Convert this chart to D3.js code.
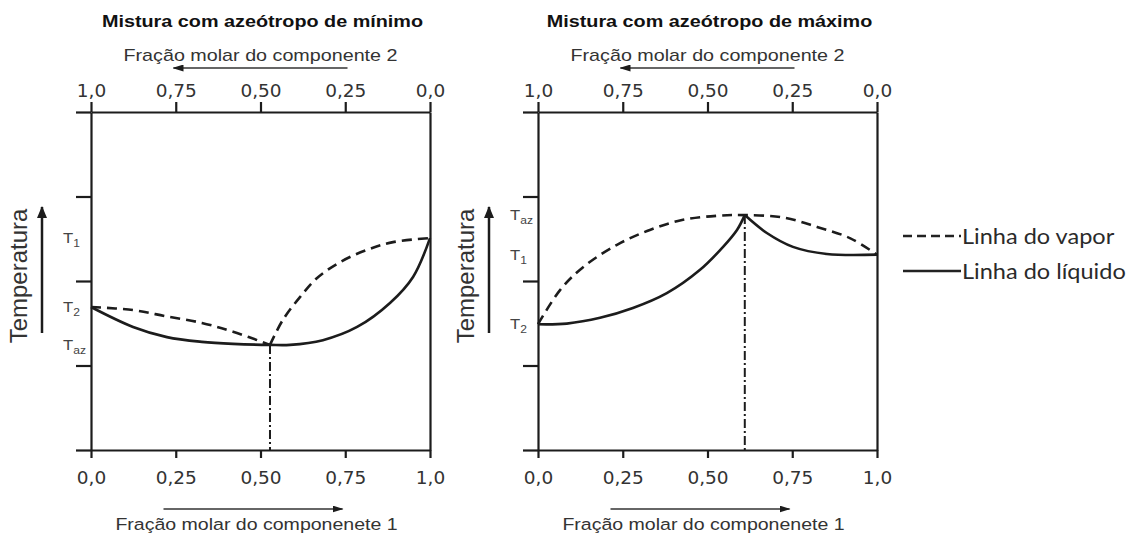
<!DOCTYPE html>
<html>
<head>
<meta charset="utf-8">
<script src="https://cdn.jsdelivr.net/npm/d3@7"></script>
<style>
  html, body { margin: 0; padding: 0; background: #fff; }
  svg { display: block; }
</style>
</head>
<body>
<svg id="chart" width="1138" height="535"></svg>
<script>
// ---- shared axis values and labels ----
const fractionTicks = [0, 0.25, 0.5, 0.75, 1];
const fractionTickLabels = ["0,0", "0,25", "0,50", "0,75", "1,0"];
const tempGrid = [0, 0.25, 0.5, 0.75, 1];
const refNames = [["T", "1"], ["T", "2"], ["T", "az"]];

const panelTitles = ["Mistura com azeótropo de mínimo", "Mistura com azeótropo de máximo"];
const topAxisTitle = "Fração molar do componente 2";
const bottomAxisTitle = "Fração molar do componenete 1";
const tempTitle = "Temperatura";
const legendNames = ["Linha do vapor", "Linha do líquido"];

// ---- minimum-boiling azeotrope (relative temperature, 0 = bottom, 1 = top) ----
const minRefTemps = [0.627, 0.423, 0.311];            // T1, T2, Taz
const minAzeoX = 0.528;
const minVaporA = [[0, 0.423], [0.124, 0.414], [0.224, 0.395], [0.327, 0.376], [0.419, 0.350], [0.528, 0.311]];
const minVaporB = [[0.528, 0.311], [0.566, 0.385], [0.617, 0.453], [0.667, 0.509], [0.735, 0.556],
                   [0.814, 0.592], [0.891, 0.615], [1, 0.627]];
const minLiquidA = [[0, 0.423], [0.124, 0.364], [0.224, 0.334], [0.327, 0.320], [0.419, 0.314], [0.528, 0.311],
                    [0.587, 0.311], [0.684, 0.325], [0.785, 0.364], [0.882, 0.435], [0.950, 0.512], [1, 0.627]];
const minLiquidB = [];

// ---- maximum-boiling azeotrope ----
const maxRefTemps = [0.578, 0.372, 0.695];            // T1, T2, Taz
const maxAzeoX = 0.61;
const maxVaporA = [[0, 0.372], [0.065, 0.473], [0.133, 0.541], [0.233, 0.607], [0.33, 0.651], [0.428, 0.681],
                   [0.528, 0.693], [0.61, 0.695], [0.723, 0.688], [0.823, 0.660], [0.92, 0.627], [1, 0.578]];
const maxVaporB = [];
const maxLiquidA = [[0, 0.372], [0.085, 0.374], [0.183, 0.391], [0.28, 0.420], [0.38, 0.464], [0.478, 0.533],
                    [0.546, 0.601], [0.587, 0.651], [0.61, 0.695]];
const maxLiquidB = [[0.61, 0.695], [0.675, 0.642], [0.752, 0.601], [0.852, 0.580], [1, 0.578]];

// ---- drawing ----
const ink = "#1c1c1c";
const textInk = "#333";
const sans = "'Liberation Sans', Arial, sans-serif";
const svg = d3.select("#chart");

const defs = svg.append("defs");
function arrowMarker(id, w, l) {
  defs.append("marker")
    .attr("id", id)
    .attr("markerUnits", "userSpaceOnUse")
    .attr("viewBox", `0 ${-w} ${l} ${2 * w}`)
    .attr("refX", l - 1).attr("refY", 0)
    .attr("markerWidth", l).attr("markerHeight", 2 * w)
    .attr("orient", "auto-start-reverse")
    .append("path")
    .attr("d", `M0,${-w}L${l},0L0,${w}Z`)
    .attr("fill", ink);
}
arrowMarker("headSmall", 3.5, 11);
arrowMarker("headBig", 5, 12);

// text with a slightly wide set (horizontal stretch)
function wideText(parent, x, y, sx, anchor) {
  return parent.append("text")
    .attr("transform", `translate(${x},${y}) scale(${sx},1)`)
    .attr("text-anchor", anchor);
}

const plotW = 339, yTop = 112, yBottom = 450;
const lineGen = (x, y) => d3.line().x(d => x(d[0])).y(d => y(d[1])).curve(d3.curveCatmullRom.alpha(0.5));

function styleAxis(g) {
  g.selectAll(".domain").attr("stroke", ink).attr("stroke-width", 2.2);
  g.selectAll(".tick line").attr("stroke", ink).attr("stroke-width", 2.2);
  g.selectAll(".tick text")
    .attr("fill", textInk)
    .style("font-family", "'DejaVu Sans', sans-serif")
    .style("font-size", "18.5px");
}

function drawPanel(x0, title, refTemps, azeoX, vapor, liquid) {
  const x = d3.scaleLinear().domain([0, 1]).range([x0, x0 + plotW]);
  const xRev = d3.scaleLinear().domain([1, 0]).range([x0, x0 + plotW]);
  const y = d3.scaleLinear().domain([0, 1]).range([yBottom, yTop]);
  const cx = x0 + plotW / 2;
  const g = svg.append("g");

  // frame and axes
  g.append("g").attr("transform", `translate(0,${yBottom})`)
    .call(d3.axisBottom(x).tickValues(fractionTicks)
      .tickFormat((d, i) => fractionTickLabels[i]).tickSize(8).tickSizeOuter(0).tickPadding(13))
    .call(styleAxis);
  g.append("g").attr("transform", `translate(0,${yTop})`)
    .call(d3.axisTop(xRev).tickValues(fractionTicks.slice().reverse())
      .tickFormat((d, i) => fractionTickLabels[fractionTicks.length - 1 - i]).tickSize(10).tickSizeOuter(0).tickPadding(5))
    .call(styleAxis);
  g.append("g").attr("transform", `translate(${x0},0)`)
    .call(d3.axisLeft(y).tickValues(tempGrid).tickFormat("").tickSize(15).tickSizeOuter(0))
    .call(styleAxis);
  g.append("g").attr("transform", `translate(${x0 + plotW},0)`)
    .call(d3.axisRight(y).tickValues([]).tickSizeOuter(0))
    .call(styleAxis);

  // reference temperature labels
  refTemps.forEach((t, i) => {
    const txt = wideText(g, x0 - 28, y(t) + 5, 1.15, "start")
      .attr("fill", "#444")
      .style("font-family", sans)
      .style("font-size", "14.5px");
    txt.append("tspan").text(refNames[i][0]);
    txt.append("tspan").attr("dy", 4).style("font-size", "10.5px").text(refNames[i][1]);
  });

  // azeotrope composition marker
  g.append("line")
    .attr("x1", x(azeoX)).attr("x2", x(azeoX))
    .attr("y1", y(refTemps[2])).attr("y2", y(0))
    .attr("stroke", ink).attr("stroke-width", 2)
    .attr("stroke-dasharray", "9,3,2,3");

  const line = lineGen(x, y);
  vapor.filter(s => s.length).forEach(s => {
    g.append("path").attr("d", line(s))
      .attr("fill", "none").attr("stroke", ink).attr("stroke-width", 2.6)
      .attr("stroke-dasharray", "10,6");
  });
  liquid.filter(s => s.length).forEach(s => {
    g.append("path").attr("d", line(s))
      .attr("fill", "none").attr("stroke", ink).attr("stroke-width", 2.6)
      .attr("stroke-linejoin", "miter");
  });

  // titles
  wideText(g, cx + 2, 27, 1.2, "middle")
    .attr("fill", "#111")
    .style("font-family", sans)
    .style("font-size", "16.5px").style("font-weight", "bold")
    .text(title);
  wideText(g, cx, 61, 1.16, "middle")
    .attr("fill", textInk)
    .style("font-family", sans)
    .style("font-size", "17px")
    .text(topAxisTitle);
  g.append("line")
    .attr("x1", cx + 87).attr("x2", cx - 87).attr("y1", 68).attr("y2", 68)
    .attr("stroke", "#333").attr("stroke-width", 1.5)
    .attr("marker-end", "url(#headSmall)");
  g.append("line")
    .attr("x1", cx - 97).attr("x2", cx + 82).attr("y1", 509).attr("y2", 509)
    .attr("stroke", "#333").attr("stroke-width", 1.5)
    .attr("marker-end", "url(#headSmall)");
  wideText(g, cx - 4, 530, 1.15, "middle")
    .attr("fill", textInk)
    .style("font-family", sans)
    .style("font-size", "17px")
    .text(bottomAxisTitle);

  // temperature axis title and arrow
  g.append("text")
    .attr("transform", `translate(${x0 - 64},276) rotate(-90)`)
    .attr("text-anchor", "middle")
    .attr("fill", textInk)
    .style("font-family", sans)
    .style("font-size", "24px")
    .text(tempTitle);
  g.append("line")
    .attr("x1", x0 - 49).attr("x2", x0 - 49).attr("y1", 333).attr("y2", 207)
    .attr("stroke", ink).attr("stroke-width", 2.5)
    .attr("marker-end", "url(#headBig)");
}

drawPanel(91, panelTitles[0], minRefTemps, minAzeoX, [minVaporA, minVaporB], [minLiquidA, minLiquidB]);
drawPanel(538, panelTitles[1], maxRefTemps, maxAzeoX, [maxVaporA, maxVaporB], [maxLiquidA, maxLiquidB]);

// legend
const legend = svg.append("g");
const legendY = [236, 271];
legendNames.forEach((name, i) => {
  legend.append("line")
    .attr("x1", 903).attr("x2", 961).attr("y1", legendY[i]).attr("y2", legendY[i])
    .attr("stroke", "#222").attr("stroke-width", 2.6)
    .attr("stroke-dasharray", i === 0 ? "9,5" : null);
  wideText(legend, 962, legendY[i] + 8, 1.12, "start")
    .attr("fill", "#2a2a2a")
    .style("font-family", "Lato, 'Open Sans', sans-serif")
    .style("font-size", "21px")
    .text(name);
});
</script>
</body>
</html>
